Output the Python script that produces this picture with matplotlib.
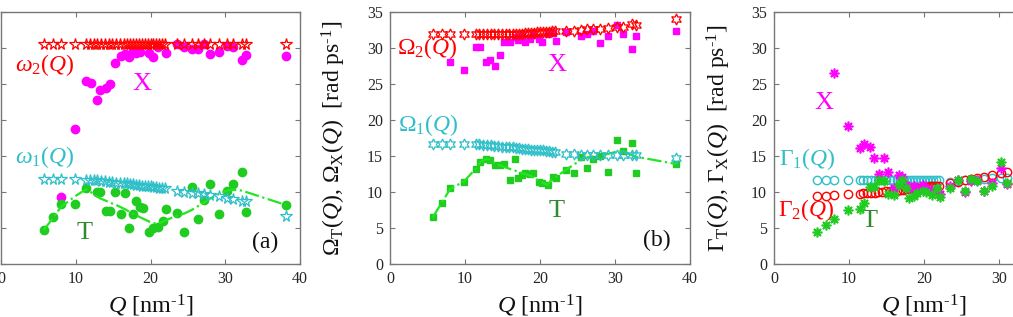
import numpy as np
import matplotlib
matplotlib.use("Agg")
import matplotlib.pyplot as plt

plt.rcParams["font.family"] = ["Liberation Serif", "DejaVu Serif"]
plt.rcParams["mathtext.fontset"] = "custom"
plt.rcParams["mathtext.rm"] = "Liberation Serif"
plt.rcParams["mathtext.it"] = "Liberation Serif:italic"
plt.rcParams["mathtext.bf"] = "Liberation Serif:bold"

nan = np.nan

# Q grid of the model curves (stars / open circles)
Q_fit = [5.7, 6.9, 8.0, 9.9, 11.4, 11.9, 12.4, 12.9, 13.4, 13.9, 14.4, 14.9, 15.4, 15.9,
         16.4, 16.8, 17.2, 17.6, 18.0, 18.4, 18.8, 19.2, 19.6, 20.0, 20.4, 20.8, 21.2,
         21.6, 22.0, 23.5, 24.5, 25.5, 26.3, 27.1, 28.0, 29.1, 30.2, 31.0, 32.3, 32.8, 38.1]

# Q grid of the fitted points (filled markers)
Q_pts = [5.7, 6.9, 8.0, 9.9, 11.4, 12.0, 12.8, 13.3, 14.0, 14.6, 15.2, 16.0, 16.6, 17.1,
         17.6, 18.0, 18.6, 19.0, 19.8, 20.3, 21.0, 21.7, 22.1, 23.5, 24.5, 25.5, 26.3,
         27.1, 28.0, 29.1, 30.2, 31.0, 32.3, 32.8, 38.1]

# panel (a)
w2 = [30.6] * 41
w1 = [11.8, 11.8, 11.8, 11.8, 11.7, 11.7, 11.6, 11.6, 11.5, 11.5, 11.4, 11.4, 11.3, 11.3,
      11.2, 11.2, 11.1, 11.1, 11.0, 11.0, 10.9, 10.9, 10.8, 10.8, 10.7, 10.7, 10.6,
      10.6, 10.5, 10.1, 10.0, 9.8, 9.8, 9.7, 9.6, 9.4, 9.2, 9.0, 8.8, 8.8, 6.7]
wX = [nan, nan, 9.3, 18.8, 25.4, 25.2, 22.8, 24.2, 24.4, 25.0, 27.9, 28.9, 29.2, 28.7,
      29.6, 29.3, 29.5, nan, 29.3, 28.8, 30.2, nan, 29.3, 30.6, 30.1, 29.9, 29.8,
      30.6, 29.1, 29.5, 30.3, 30.1, 28.3, 29.0, 28.9]
wT = [4.7, 6.5, 8.4, 8.4, 10.6, nan, 10.0, 10.0, 7.3, 7.4, 10.0, 6.9, 9.8, 5.0,
      6.9, 8.8, 7.9, 7.8, 4.4, 5.0, 5.2, 6.0, 7.6, 7.1, 4.5, 10.7, 6.3,
      8.9, 11.1, 6.9, 10.2, 11.1, 12.8, 7.2, 8.2]
wT_fit = [4.7, 6.3, 7.9, 9.4, 10.4, 10.0, 9.4, 9.1, 8.8, 8.5, 8.3, 7.9, 7.6, 7.3,
          7.0, 6.8, 6.5, 6.3, 5.9, 5.7, 5.6, 5.9, 6.1, 6.7, 7.0, 7.5, 8.0,
          8.5, 9.1, 9.7, 10.2, 10.3, 10.2, 10.0, 8.2]

# panel (b)
W2 = [32.0, 32.0, 32.0, 32.0, 32.0, 32.0, 32.0, 32.0, 32.0, 32.0, 32.0, 32.0, 32.0, 32.0,
      32.0, 32.0, 32.0, 32.0, 32.1, 32.1, 32.1, 32.1, 32.2, 32.2, 32.2, 32.2, 32.2,
      32.3, 32.3, 32.4, 32.4, 32.5, 32.6, 32.6, 32.7, 32.8, 32.9, 32.9, 33.3, 33.2, 34.0]
W1 = [16.6, 16.6, 16.6, 16.6, 16.6, 16.6, 16.5, 16.5, 16.5, 16.4, 16.4, 16.3, 16.3, 16.2,
      16.2, 16.1, 16.1, 16.0, 16.0, 16.0, 15.9, 15.9, 15.8, 15.8, 15.8, 15.7, 15.7,
      15.6, 15.6, 15.3, 15.3, 15.2, 15.2, 15.2, 15.2, 15.1, 15.1, 15.1, 15.2, 15.2, 14.7]
WX = [nan, nan, 28.0, 26.9, 30.1, 30.1, 28.0, 28.3, 27.5, 29.0, 30.8, 30.8, 31.5, 31.1,
      31.6, 30.8, 31.3, 31.8, 31.2, 30.9, 32.0, 32.1, 31.0, 32.2, nan, 31.7, 32.0,
      32.4, 30.7, 31.7, 33.2, 32.0, 29.9, 31.7, 32.3]
WT = [6.5, 8.5, 10.5, 11.4, 13.2, 14.2, 14.6, 14.5, 13.7, 13.7, 13.9, 11.7, 14.6, 12.0,
      12.3, 12.7, 12.5, 12.7, 11.4, 11.3, 11.0, 12.1, 11.9, 13.0, 12.6, 14.8, 13.4,
      14.6, 15.0, 12.8, 17.2, 15.7, 16.8, 12.6, 13.9]
WT_fit = [6.5, 8.5, 10.4, 11.5, 13.2, 14.1, 14.6, 14.5, 13.9, 13.7, 13.5, 13.2, 13.0, 12.8,
          12.6, 12.5, 12.3, 12.1, 11.6, 11.3, 11.0, 11.9, 12.1, 13.1, 13.8, 14.5, 14.8,
          15.0, 15.1, 15.3, 15.6, 15.7, 15.1, 14.9, 13.9]

# panel (c)
G1 = [11.6, 11.6, 11.6, 11.6, 11.6, 11.6, 11.6, 11.6, 11.6, 11.6, 11.6, 11.6, 11.6, 11.6,
      11.6, 11.6, 11.6, 11.6, 11.6, 11.6, 11.6, 11.6, 11.6, 11.6, 11.6, 11.6, 11.6,
      11.6, 11.6, 11.4, 11.5, 11.6, 11.6, 11.7, 11.8, 11.9, 12.0, 12.0, nan, nan, nan]
G2 = [9.5, 9.5, 9.6, 9.7, 9.7, 9.8, 9.8, 9.9, 9.9, 10.0, 10.0, 10.1, 10.1, 10.2,
      10.2, 10.3, 10.3, 10.4, 10.4, 10.5, 10.5, 10.6, 10.6, 10.7, 10.7, 10.8, 10.8,
      10.9, 10.9, 11.2, 11.4, 11.6, 11.8, 11.9, 12.1, 12.3, 12.6, 12.8, nan, nan, nan]
GX = [nan, nan, 26.5, 19.1, 16.1, 16.6, 16.2, 14.7, 12.5, 14.7, 12.8, 10.6, 12.3, 12.1,
      11.0, 10.6, 10.9, 10.5, 11.0, 10.4, 10.3, 10.2, 9.7, 10.8, 11.6, 10.0, 11.5,
      11.6, 10.1, 11.3, 13.3, 11.1, nan, nan, nan]
GT = [4.4, 5.4, 6.2, 7.5, 7.7, 8.5, 10.7, 10.7, 11.6, 11.5, 9.7, 9.6, 11.0, 11.6,
      10.5, 9.1, 9.5, 9.8, 10.2, 10.0, 9.6, 10.5, 9.3, 10.6, 11.7, 10.1, 11.8,
      11.5, 10.1, 10.8, 14.1, 11.3, nan, nan, nan]

RED = "#ff0000"
CYAN = "#2fbfc9"
MAG = "#ff00ff"
GREEN = "#1fcc1f"
LINE_GREEN = "#22e622"
DARK_GREEN = "#2e8b2e"

# superscript "-1" drawn with a plain hyphen, as in the original
UNIT_SUP = "$^{\u2010 1}$"

W, H = 1013, 317
fig = plt.figure(figsize=(W / 100, H / 100), dpi=100)
bottom = 1 - 264 / H
height = 252 / H
ax_a = fig.add_axes([1 / W, bottom, 299 / W, height])
ax_b = fig.add_axes([390 / W, bottom, 300 / W, height])
ax_c = fig.add_axes([774 / W, bottom, 300 / W, height])

for ax in (ax_a, ax_b, ax_c):
    ax.set_xlim(0, 40)
    ax.set_ylim(0, 35)
    ax.set_xticks([0, 10, 20, 30, 40])
    ax.set_yticks([0, 5, 10, 15, 20, 25, 30, 35])
    ax.tick_params(direction="in", length=3.5, width=0.8, top=True, right=True,
                   labelsize=11.5, colors="#777777", labelcolor="#262626", pad=5)
    for s in ax.spines.values():
        s.set_color("#777777")
        s.set_linewidth(1.0)
    ax.set_xlabel(r"$Q$ [nm" + UNIT_SUP + "]", fontsize=17.5, color="#111111", labelpad=4)

# the y tick labels of (a) lie outside the picture
ax_a.tick_params(labelleft=False)

# (a)
ax_a.plot(Q_pts, wX, "o", color=MAG, ms=6, mec=MAG, zorder=2)
ax_a.plot(Q_pts, wT, "o", color=GREEN, ms=6, mec=GREEN, zorder=2)
ax_a.plot(Q_pts, wT_fit, "-.", color=LINE_GREEN, lw=1.6, zorder=3)
ax_a.plot(Q_fit, w2, "*", mfc="none", mec=RED, ms=8.5, mew=0.9, zorder=4)
ax_a.plot(Q_fit, w1, "*", mfc="none", mec=CYAN, ms=8.5, mew=0.9, zorder=4)
ax_a.text(1.9, 27.6, r"$\omega_2(Q)$", color=RED, fontsize=17, va="center")
ax_a.text(1.9, 14.9, r"$\omega_1(Q)$", color=CYAN, fontsize=17, va="center")
ax_a.text(18.9, 25.0, "X", color=MAG, fontsize=19, ha="center", va="center")
ax_a.text(11.2, 4.3, "T", color=DARK_GREEN, fontsize=19, ha="center", va="center")
ax_a.text(35.3, 3.0, "(a)", color="#111111", fontsize=17, ha="center", va="center")

# (b)
hexa = (6, 1, 0)
ax_b.plot(Q_pts, WX, "s", color=MAG, ms=5, mec=MAG, zorder=2)
ax_b.plot(Q_pts, WT, "s", color=GREEN, ms=5, mec=GREEN, zorder=2)
ax_b.plot(Q_pts, WT_fit, "-.", color=LINE_GREEN, lw=1.6, zorder=3)
ax_b.plot(Q_fit, W2, marker=hexa, ls="none", mfc="none", mec=RED, ms=8, mew=0.9, zorder=4)
ax_b.plot(Q_fit, W1, marker=hexa, ls="none", mfc="none", mec=CYAN, ms=8, mew=0.9, zorder=4)
ax_b.text(0.9, 30.0, r"$\Omega_2(Q)$", color=RED, fontsize=17, va="center")
ax_b.text(1.1, 19.3, r"$\Omega_1(Q)$", color=CYAN, fontsize=17, va="center")
ax_b.text(22.2, 27.6, "X", color=MAG, fontsize=19, ha="center", va="center")
ax_b.text(22.2, 7.3, "T", color=DARK_GREEN, fontsize=19, ha="center", va="center")
ax_b.text(35.6, 3.3, "(b)", color="#111111", fontsize=17, ha="center", va="center")
ax_b.set_ylabel(r"$\Omega_{\rm T}(Q)$, $\Omega_{\rm X}(Q)$  [rad ps" + UNIT_SUP + "]",
                fontsize=17, color="#111111")
ax_b.yaxis.set_label_coords(-0.14, 0.5)

# (c)
aster = (8, 2, 0)
ax_c.plot(Q_fit, G1, "o", mfc="none", mec=CYAN, ms=6, mew=1.0, zorder=3)
ax_c.plot(Q_fit, G2, "o", mfc="none", mec=RED, ms=6, mew=1.0, zorder=3)
ax_c.plot(Q_pts, GX, marker=aster, ls="none", mec=MAG, ms=7, mew=1.2, zorder=4)
ax_c.plot(Q_pts, GT, marker=aster, ls="none", mec=GREEN, ms=7, mew=1.2, zorder=4)
ax_c.text(6.6, 22.3, "X", color=MAG, fontsize=19, ha="center", va="center")
ax_c.text(0.6, 14.6, r"$\Gamma_1(Q)$", color=CYAN, fontsize=17, va="center")
ax_c.text(0.5, 7.55, r"$\Gamma_2(Q)$", color=RED, fontsize=17, va="center")
ax_c.text(12.8, 6.0, "T", color=DARK_GREEN, fontsize=19, ha="center", va="center")
ax_c.set_ylabel(r"$\Gamma_{\rm T}(Q)$, $\Gamma_{\rm X}(Q)$  [rad ps" + UNIT_SUP + "]",
                fontsize=17, color="#111111")
ax_c.yaxis.set_label_coords(-0.137, 0.5)

fig.savefig("out.png", dpi=100)
